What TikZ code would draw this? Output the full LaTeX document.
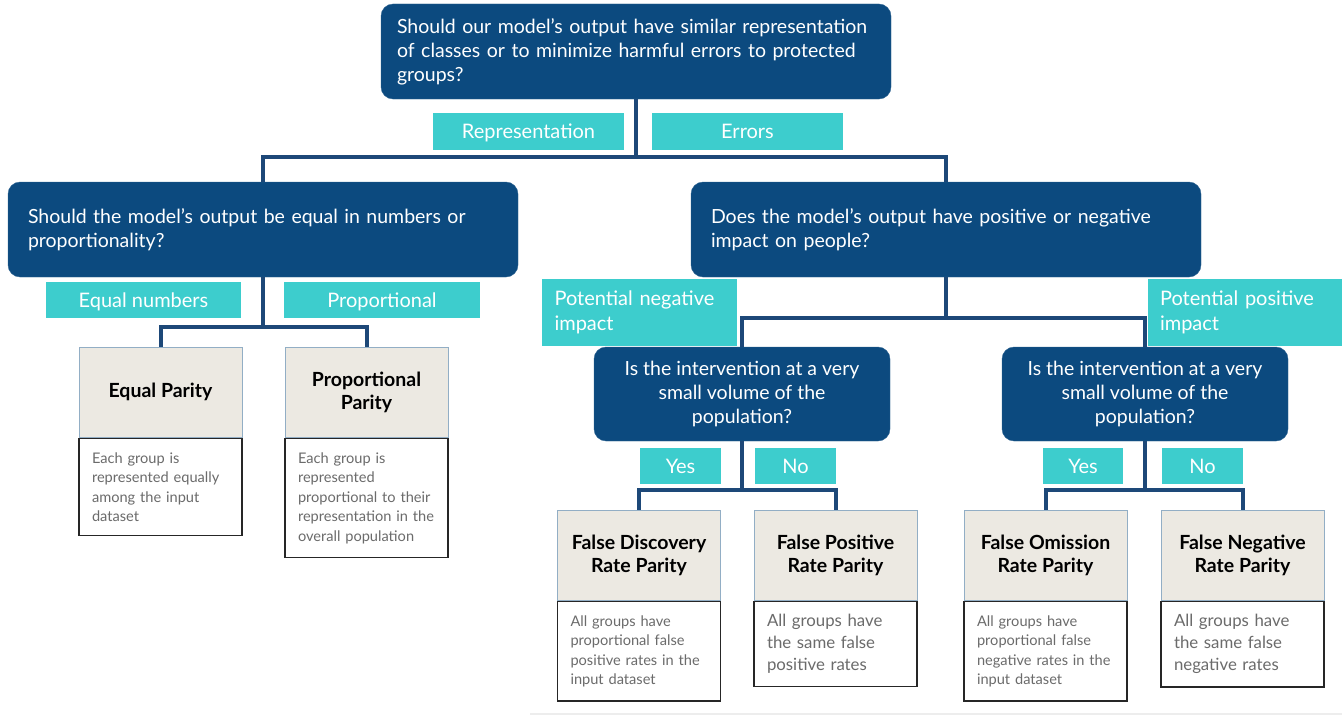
\documentclass[tikz,border=0pt]{standalone}
\usepackage{fontspec}
\setmainfont{Lato}
\usetikzlibrary{positioning}
\definecolor{QuestionBlue}{HTML}{0C4A7F}
\definecolor{LinkBlue}{HTML}{1D4878}
\definecolor{AnswerTeal}{HTML}{3DCDCD}
\definecolor{HeaderBeige}{HTML}{ECE9E2}
\definecolor{DescGray}{HTML}{6B6B6B}
\tikzstyle{question}=[rectangle,
        rounded corners=12,
        fill=QuestionBlue,
        draw=QuestionBlue!85,
        text=white,
        minimum height=95,
        font=\fontsize{19.5}{24}\selectfont, ]
\tikzstyle{answer}=[rectangle,
        fill=AnswerTeal,
        text=white,
        minimum height=36,
        font=\fontsize{20}{25}\selectfont, ]
\tikzstyle{answer_one}=[answer,
        text height=14pt,
        text depth=0pt, ]
\tikzstyle{parity_head}=[rectangle,
        fill=HeaderBeige,
        draw=QuestionBlue!45,
        line width=1,
        minimum width=163,
        minimum height=90,
        align=center,
        font=\bfseries\fontsize{19.5}{23}\selectfont, ]
\tikzstyle{parity_desc}=[rectangle,
        fill=white,
        draw=black!85,
        line width=1.6,
        text=DescGray,
        text width=137pt,
        inner xsep=13,
        inner ysep=14,
        align=left,
        font=\fontsize{14.6}{19.5}\selectfont, ]
\tikzstyle{link}=[draw=LinkBlue, line width=4]

\begin{document}
\begin{tikzpicture}[x=1pt, y=-1pt]
    \useasboundingbox (0,0) rectangle (1342,717);

    % questions
    \node at (636, 51.5) (q0) [question, minimum width=510, text width=478pt, align=left]
        {Should our model’s output have similar representation\\of classes or to minimize harmful errors to protected\\groups?};
    \node at (263, 229.5) (q1) [question, minimum width=510, text width=470pt, align=left]
        {Should the model’s output be equal in numbers or\\proportionality?};
    \node at (946, 229.5) (q2) [question, minimum width=510, text width=470pt, align=left]
        {Does the model’s output have positive or negative\\impact on people?};
    \node at (742, 394) (q3) [question, minimum width=296, minimum height=94, align=center]
        {Is the intervention at a very\\small volume of the\\population?};
    \node at (1145, 394) (q4) [question, minimum width=286, minimum height=94, align=center]
        {Is the intervention at a very\\small volume of the\\population?};

    % answers
    \node at (528.5, 131.5) (aRep) [answer_one, minimum width=191, minimum height=37] {Representation};
    \node at (747.5, 131.5) (aErr) [answer_one, minimum width=191, minimum height=37] {Errors};
    \node at (143.5, 300) (aEqual) [answer_one, minimum width=195] {Equal numbers};
    \node at (382, 300) (aProp) [answer_one, minimum width=196] {Proportional};
    \node at (639.5, 312.5) (aNeg) [answer, minimum width=195, minimum height=67, text width=170pt, align=left] {Potential negative\\impact};
    \node at (1245, 312.5) (aPos) [answer, minimum width=194, minimum height=67, text width=170pt, align=left] {Potential positive\\impact};
    \node at (680.5, 466) (aYes1) [answer_one, minimum width=81] {Yes};
    \node at (795.5, 466) (aNo1) [answer_one, minimum width=81] {No};
    \node at (1083, 466) (aYes2) [answer_one, minimum width=80] {Yes};
    \node at (1202.5, 466) (aNo2) [answer_one, minimum width=81] {No};

    % parities
    \node at (160.5, 392) (eqH) [parity_head] {Equal Parity};
    \node [parity_desc, below=0pt of eqH] (eqD) {Each group is\\represented equally\\among the input\\dataset};
    \node at (366.5, 392) (propH) [parity_head] {Proportional\\Parity};
    \node [parity_desc, below=0pt of propH] (propD) {Each group is\\represented\\proportional to their\\representation in the\\overall population};

    \node at (639, 555) (fdrH) [parity_head] {False Discovery\\Rate Parity};
    \node [parity_desc, below=0pt of fdrH] (fdrD) {All groups have\\proportional false\\positive rates in the\\input dataset};
    \node at (835.5, 555) (fprH) [parity_head] {False Positive\\Rate Parity};
    \node [parity_desc, below=0pt of fprH, font=\fontsize{16.8}{22}\selectfont, inner ysep=13] (fprD) {All groups have\\the same false\\positive rates};
    \node at (1045.5, 555) (forH) [parity_head] {False Omission\\Rate Parity};
    \node [parity_desc, below=0pt of forH] (forD) {All groups have\\proportional false\\negative rates in the\\input dataset};
    \node at (1242.5, 555) (fnrH) [parity_head] {False Negative\\Rate Parity};
    \node [parity_desc, below=0pt of fnrH, font=\fontsize{16.8}{22}\selectfont, inner ysep=13] (fnrD) {All groups have\\the same false\\negative rates};

    % connectors
    \coordinate (j0) at (q0.south |- 0,157);
    \coordinate (j1) at (q1.south |- 0,327);
    \coordinate (j2) at (q2.south |- 0,318);
    \coordinate (j3) at (q3.south |- 0,490);
    \coordinate (j4) at (q4.south |- 0,490);

    \draw[link] (q0.south) -- (j0) -| (q1.north);
    \draw[link] (j0) -| (q2.north);
    \draw[link] (q1.south) -- (j1) -| (eqH.north);
    \draw[link] (j1) -| (propH.north);
    \draw[link] (q2.south) -- (j2) -| (q3.north);
    \draw[link] (j2) -| (q4.north);
    \draw[link] (q3.south) -- (j3) -| (fdrH.north);
    \draw[link] (j3) -| (fprH.north);
    \draw[link] (q4.south) -- (j4) -| (forH.north);
    \draw[link] (j4) -| (fnrH.north);

    \draw[black!7, line width=2] (530,714) -- (1342,714);
\end{tikzpicture}
\end{document}
